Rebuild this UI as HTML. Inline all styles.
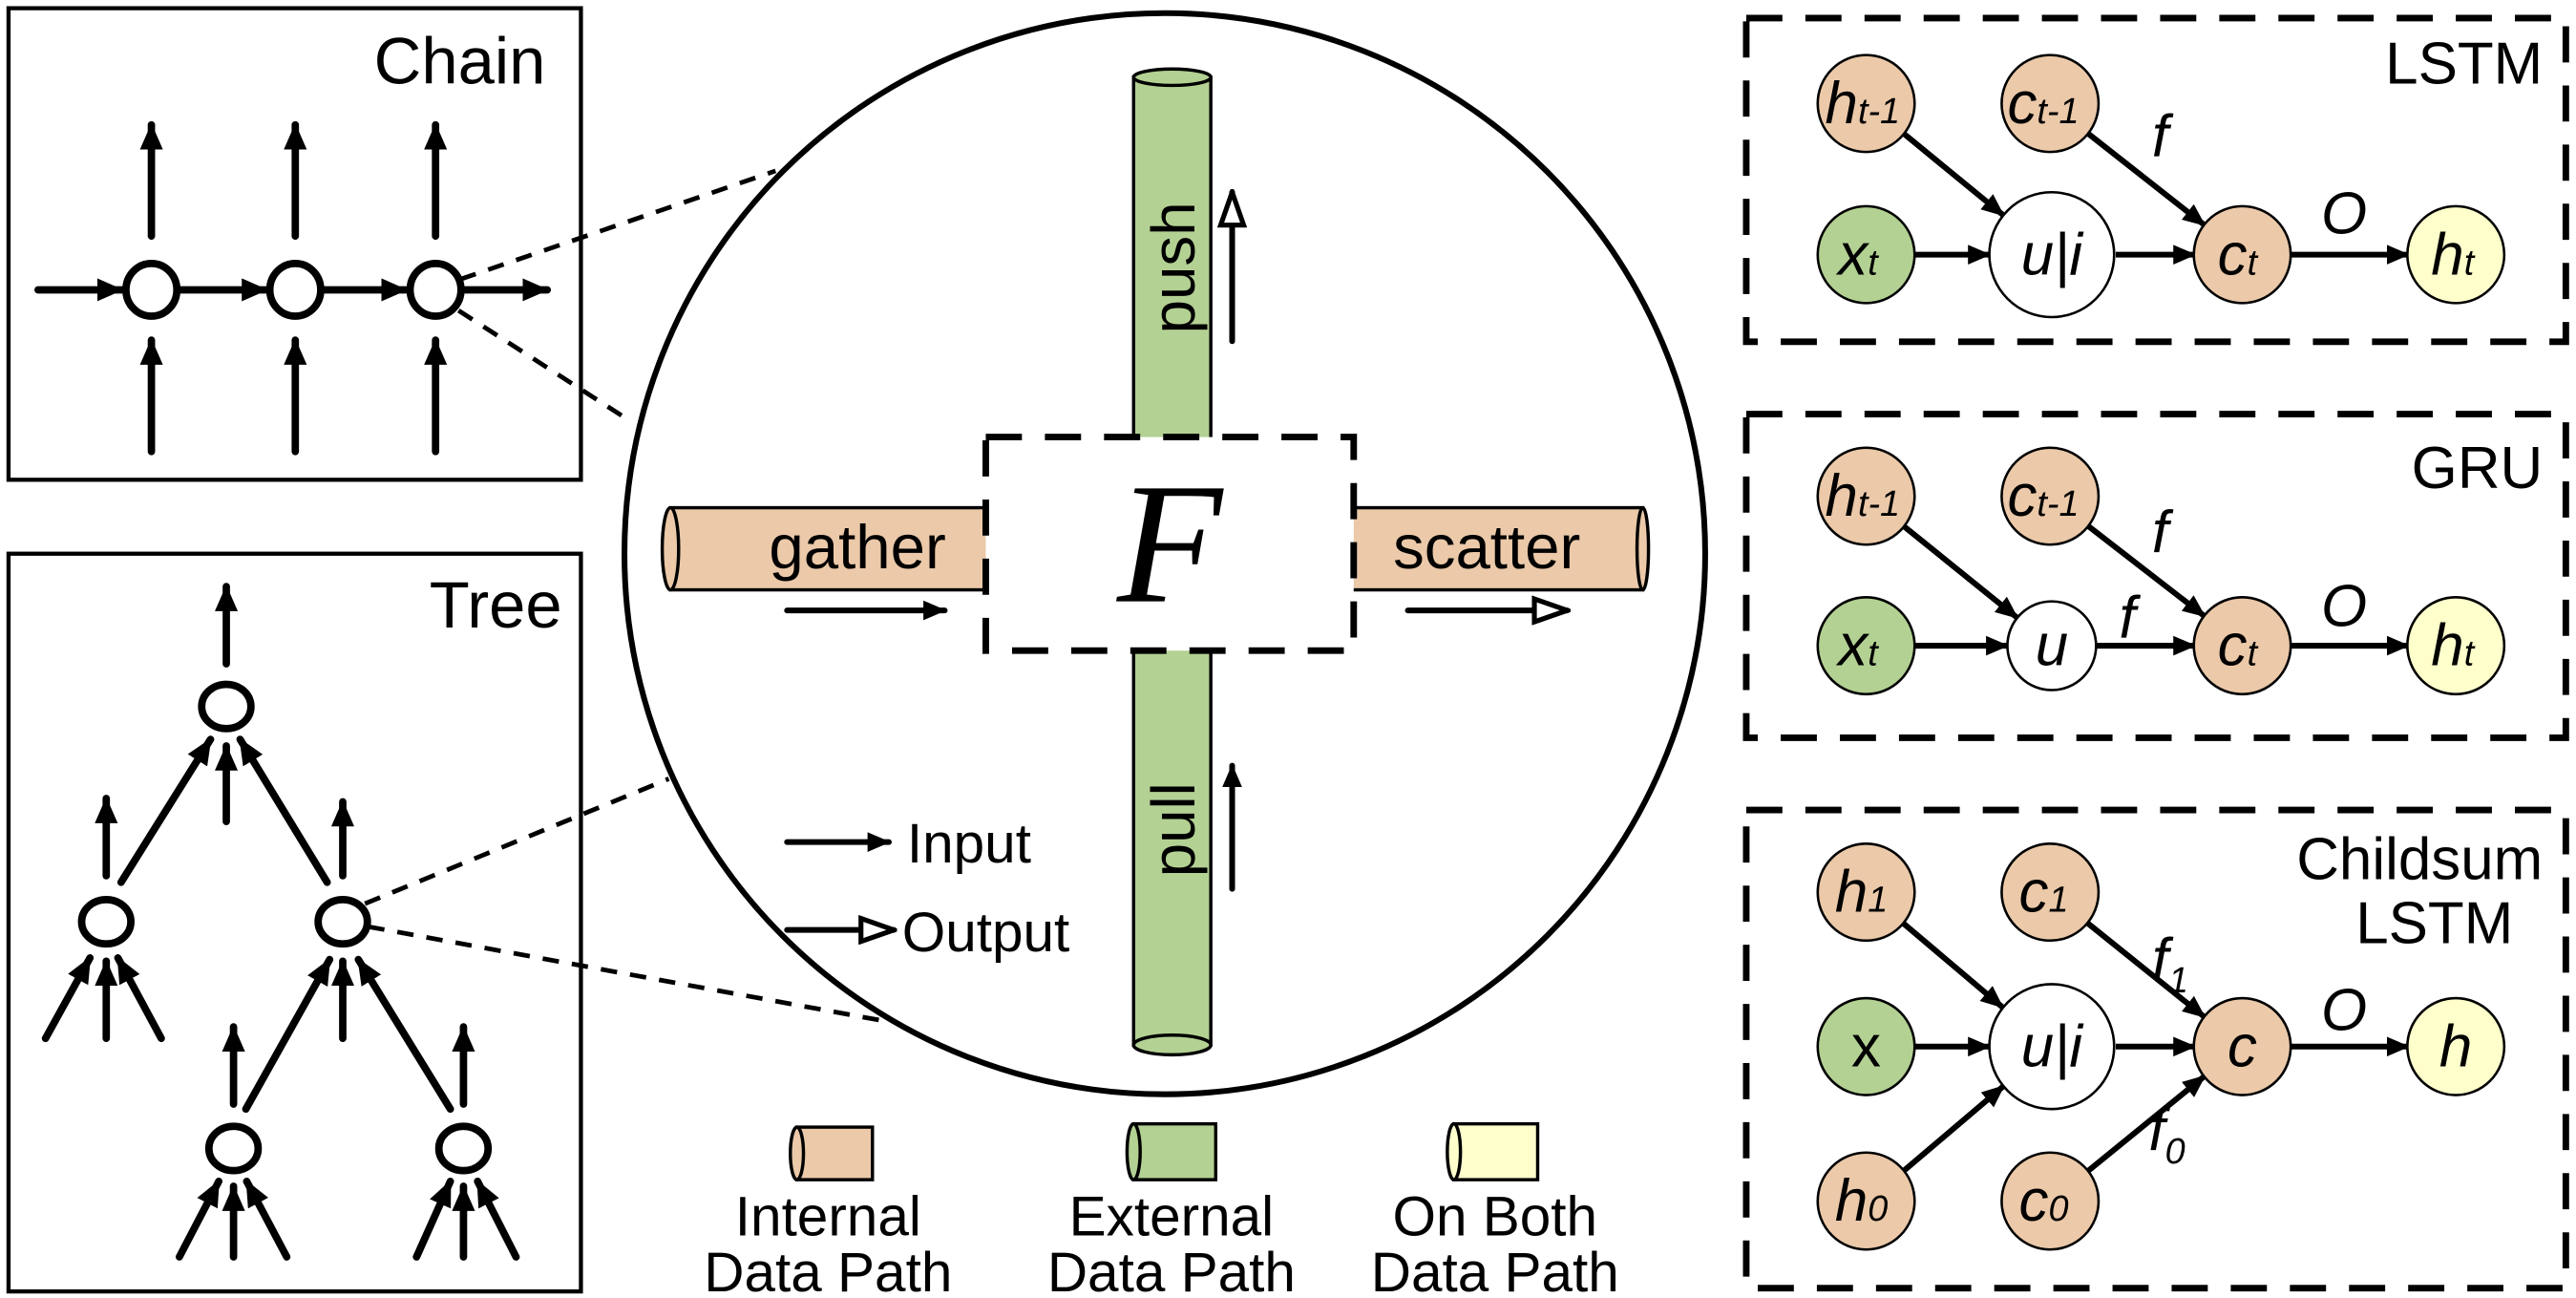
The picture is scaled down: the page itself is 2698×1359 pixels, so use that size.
<!DOCTYPE html>
<html><head><meta charset="utf-8"><style>
html,body{margin:0;padding:0;background:#fff;}
svg{display:block;}
text{font-family:"Liberation Sans","DejaVu Sans",sans-serif;fill:#000;}
.it{font-style:italic;}
</style></head><body>
<svg width="2698" height="1359" viewBox="0 0 1568 790" xmlns="http://www.w3.org/2000/svg">
<defs>
<marker id="af" markerUnits="userSpaceOnUse" markerWidth="16" markerHeight="14" refX="15" refY="7" orient="auto"><path d="M0,0 L16,7 L0,14 Z" fill="#000"/></marker>
<marker id="as" markerUnits="userSpaceOnUse" markerWidth="14" markerHeight="12" refX="13" refY="6" orient="auto"><path d="M0,0 L14,6 L0,12 Z" fill="#000"/></marker>
<marker id="ao" markerUnits="userSpaceOnUse" markerWidth="24" markerHeight="18" refX="22" refY="9" orient="auto"><path d="M2,2 L22,9 L2,16 Z" fill="#fff" stroke="#000" stroke-width="3"/></marker>
</defs>

<rect x="5" y="5" width="348.5" height="287" fill="none" stroke="#000" stroke-width="2.5"/>
<text x="332" y="51" font-size="40" text-anchor="end">Chain</text>
<g stroke="#000" stroke-width="4.5" fill="none" stroke-linecap="round">
<line x1="92" y1="143.7" x2="92" y2="76" marker-end="url(#af)"/>
<line x1="179.6" y1="143.7" x2="179.6" y2="76" marker-end="url(#af)"/>
<line x1="265" y1="143.7" x2="265" y2="76" marker-end="url(#af)"/>
<line x1="92" y1="274.8" x2="92" y2="207" marker-end="url(#af)"/>
<line x1="179.6" y1="274.8" x2="179.6" y2="207" marker-end="url(#af)"/>
<line x1="265" y1="274.8" x2="265" y2="207" marker-end="url(#af)"/>
<line x1="23" y1="176.4" x2="74" y2="176.4" marker-end="url(#af)"/>
<line x1="109" y1="176.4" x2="162" y2="176.4" marker-end="url(#af)"/>
<line x1="197" y1="176.4" x2="247" y2="176.4" marker-end="url(#af)"/>
<line x1="283" y1="176.4" x2="333" y2="176.4" marker-end="url(#af)"/>
<ellipse cx="92" cy="176.4" rx="15.5" ry="16" fill="#fff"/>
<ellipse cx="179.6" cy="176.4" rx="15.5" ry="16" fill="#fff"/>
<ellipse cx="265" cy="176.4" rx="15.5" ry="16" fill="#fff"/>
</g>
<g stroke="#000" stroke-width="2.8" stroke-dasharray="10,8" fill="none">
<line x1="280" y1="170" x2="472" y2="104"/>
<line x1="279" y1="189" x2="380" y2="254"/>
<line x1="222" y1="550" x2="407" y2="474"/>
<line x1="224" y1="564" x2="536" y2="621"/>
</g>

<rect x="5" y="337" width="348.5" height="449" fill="none" stroke="#000" stroke-width="2.5"/>
<text x="342" y="382" font-size="40" text-anchor="end">Tree</text>
<g stroke="#000" stroke-width="4.5" fill="none" stroke-linecap="round">
<line x1="137.6" y1="404" x2="137.6" y2="357" marker-end="url(#af)"/>
<line x1="137.6" y1="500" x2="137.6" y2="454" marker-end="url(#af)"/>
<line x1="73.5" y1="537" x2="128" y2="450" marker-end="url(#af)"/>
<line x1="199" y1="537" x2="146" y2="450" marker-end="url(#af)"/>
<line x1="64.5" y1="533" x2="64.5" y2="486" marker-end="url(#af)"/>
<line x1="208.5" y1="533" x2="208.5" y2="488" marker-end="url(#af)"/>
<line x1="27.5" y1="632" x2="54.6" y2="583" marker-end="url(#af)"/>
<line x1="64.5" y1="632" x2="64.5" y2="585" marker-end="url(#af)"/>
<line x1="98" y1="632" x2="71.6" y2="583" marker-end="url(#af)"/>
<line x1="149.5" y1="675" x2="200.5" y2="584" marker-end="url(#af)"/>
<line x1="208.5" y1="632" x2="208.5" y2="585" marker-end="url(#af)"/>
<line x1="274" y1="675" x2="218" y2="584" marker-end="url(#af)"/>
<line x1="142" y1="672" x2="142" y2="625" marker-end="url(#af)"/>
<line x1="282" y1="672" x2="282" y2="625" marker-end="url(#af)"/>
<line x1="109" y1="765" x2="133" y2="719" marker-end="url(#af)"/>
<line x1="142" y1="765" x2="142" y2="722" marker-end="url(#af)"/>
<line x1="174.4" y1="765" x2="150" y2="719" marker-end="url(#af)"/>
<line x1="253.4" y1="765" x2="274" y2="719" marker-end="url(#af)"/>
<line x1="282" y1="765" x2="282" y2="722" marker-end="url(#af)"/>
<line x1="314" y1="765" x2="290.6" y2="719" marker-end="url(#af)"/>
<ellipse cx="137.6" cy="430" rx="15" ry="13.5" fill="#fff"/>
<ellipse cx="64.5" cy="561" rx="15" ry="13.5" fill="#fff"/>
<ellipse cx="208.5" cy="561" rx="15" ry="13.5" fill="#fff"/>
<ellipse cx="142" cy="699" rx="15" ry="13.5" fill="#fff"/>
<ellipse cx="282" cy="699" rx="15" ry="13.5" fill="#fff"/>
</g>

<circle cx="709" cy="337" r="329" fill="#fff" stroke="#000" stroke-width="3.5"/>
<rect x="690" y="47" width="47" height="589" fill="#B3D193" stroke="#000" stroke-width="2"/>
<ellipse cx="713.5" cy="47" rx="23.5" ry="5" fill="#B3D193" stroke="#000" stroke-width="2"/>
<ellipse cx="713.5" cy="636" rx="23.5" ry="6" fill="#B3D193" stroke="#000" stroke-width="2"/>
<rect x="408" y="309" width="195" height="50" fill="#EBC9A9" stroke="#000" stroke-width="2"/>
<ellipse cx="408" cy="334" rx="5" ry="25" fill="#EBC9A9" stroke="#000" stroke-width="2"/>
<rect x="820" y="309" width="180" height="50" fill="#EBC9A9" stroke="#000" stroke-width="2"/>
<ellipse cx="1000" cy="334" rx="3.5" ry="25" fill="#EBC9A9" stroke="#000" stroke-width="2"/>
<rect x="600" y="266" width="224" height="130" fill="#fff"/>
<rect x="600" y="266" width="224" height="130" fill="none" stroke="#000" stroke-width="4" stroke-dasharray="22,14"/>
<text x="712" y="366" font-size="105" text-anchor="middle" style="font-family:'Liberation Serif',serif;font-style:italic">F</text>
<text x="468" y="346" font-size="38">gather</text>
<text x="848" y="346" font-size="38">scatter</text>
<text transform="translate(727,163) rotate(-90)" font-size="37" text-anchor="middle">push</text>
<text transform="translate(727,505) rotate(-90)" font-size="37" text-anchor="middle">pull</text>
<g stroke="#000" stroke-width="3.5" fill="none" stroke-linecap="round">
<line x1="479" y1="371.5" x2="575" y2="371.5" marker-end="url(#as)"/>
<line x1="857" y1="371.5" x2="954" y2="371.5" marker-end="url(#ao)"/>
<line x1="750" y1="207.7" x2="750" y2="117" marker-end="url(#ao)"/>
<line x1="750" y1="541" x2="750" y2="466" marker-end="url(#as)"/>
<line x1="479" y1="512.5" x2="541" y2="512.5" marker-end="url(#as)"/>
<line x1="479" y1="566" x2="544" y2="566" marker-end="url(#ao)"/>
</g>
<text x="552" y="525" font-size="34">Input</text>
<text x="549" y="579" font-size="34">Output</text>

<g stroke="#000" stroke-width="2">
<rect x="485" y="686" width="46" height="32" fill="#EBC9A9"/>
<ellipse cx="485" cy="702" rx="4" ry="16" fill="#EBC9A9"/>
<rect x="690" y="684" width="50" height="34" fill="#B3D193"/>
<ellipse cx="690" cy="701" rx="4" ry="17" fill="#B3D193"/>
<rect x="885" y="684" width="51" height="34" fill="#FFFFCC"/>
<ellipse cx="885" cy="701" rx="4" ry="17" fill="#FFFFCC"/>
</g>
<g font-size="34" text-anchor="middle">
<text x="504" y="752">Internal</text><text x="504" y="786">Data Path</text>
<text x="713" y="752">External</text><text x="713" y="786">Data Path</text>
<text x="910" y="752">On Both</text><text x="910" y="786">Data Path</text>
</g>

<g fill="none" stroke="#000" stroke-width="4" stroke-dasharray="22,14">
<rect x="1063" y="11" width="499" height="197"/>
<rect x="1063" y="252" width="499" height="197"/>
<rect x="1063" y="493" width="499" height="291"/>
</g>
<text x="1548" y="51" font-size="36" text-anchor="end">LSTM</text>
<text x="1548" y="297" font-size="36" text-anchor="end">GRU</text>
<text x="1548" y="535" font-size="36" text-anchor="end">Childsum</text>
<text x="1530" y="574" font-size="36" text-anchor="end">LSTM</text>

<g stroke="#000" stroke-width="3.5" fill="none">
<line x1="1158.5" y1="81" x2="1219.5" y2="131" marker-end="url(#as)"/>
<line x1="1270.8" y1="81" x2="1342" y2="137" marker-end="url(#as)"/>
<line x1="1166" y1="155" x2="1211" y2="155" marker-end="url(#as)"/>
<line x1="1288" y1="155" x2="1336" y2="155" marker-end="url(#as)"/>
<line x1="1394" y1="155" x2="1466" y2="155" marker-end="url(#as)"/>
<line x1="1158.6" y1="320" x2="1228" y2="376" marker-end="url(#as)"/>
<line x1="1271" y1="320" x2="1342" y2="375" marker-end="url(#as)"/>
<line x1="1166" y1="393" x2="1222" y2="393" marker-end="url(#as)"/>
<line x1="1276" y1="393" x2="1336" y2="393" marker-end="url(#as)"/>
<line x1="1394" y1="393" x2="1466" y2="393" marker-end="url(#as)"/>
<line x1="1158.7" y1="562" x2="1219" y2="613" marker-end="url(#as)"/>
<line x1="1271" y1="562" x2="1342" y2="619" marker-end="url(#as)"/>
<line x1="1166" y1="637" x2="1211" y2="637" marker-end="url(#as)"/>
<line x1="1288" y1="637" x2="1336" y2="637" marker-end="url(#as)"/>
<line x1="1394" y1="637" x2="1466" y2="637" marker-end="url(#as)"/>
<line x1="1158.4" y1="713" x2="1219.7" y2="661" marker-end="url(#as)"/>
<line x1="1270.7" y1="713" x2="1342" y2="655" marker-end="url(#as)"/>
</g>

<g stroke="#000" stroke-width="1.5">
<circle cx="1136" cy="63" r="29.5" fill="#EBC9A9"/>
<circle cx="1248" cy="63" r="29.5" fill="#EBC9A9"/>
<circle cx="1136" cy="155" r="29.5" fill="#B3D193"/>
<circle cx="1249" cy="155" r="38" fill="#fff"/>
<circle cx="1365" cy="155" r="29.5" fill="#EBC9A9"/>
<circle cx="1495" cy="155" r="29.5" fill="#FFFFCC"/>
<circle cx="1136" cy="302" r="29.5" fill="#EBC9A9"/>
<circle cx="1248" cy="302" r="29.5" fill="#EBC9A9"/>
<circle cx="1136" cy="393" r="29.5" fill="#B3D193"/>
<circle cx="1249" cy="393" r="27" fill="#fff"/>
<circle cx="1365" cy="393" r="29.5" fill="#EBC9A9"/>
<circle cx="1495" cy="393" r="29.5" fill="#FFFFCC"/>
<circle cx="1136" cy="543" r="29.5" fill="#EBC9A9"/>
<circle cx="1248" cy="543" r="29.5" fill="#EBC9A9"/>
<circle cx="1136" cy="637" r="29.5" fill="#B3D193"/>
<circle cx="1249" cy="637" r="38" fill="#fff"/>
<circle cx="1365" cy="637" r="29.5" fill="#EBC9A9"/>
<circle cx="1495" cy="637" r="29.5" fill="#FFFFCC"/>
<circle cx="1136" cy="731" r="29.5" fill="#EBC9A9"/>
<circle cx="1248" cy="731" r="29.5" fill="#EBC9A9"/>
</g>

<g class="it" font-size="36">
<text x="1111" y="75">h<tspan font-size="22">t-1</tspan></text>
<text x="1222" y="75">c<tspan font-size="22">t-1</tspan></text>
<text x="1119" y="167">x<tspan font-size="22">t</tspan></text>
<text x="1249" y="167" text-anchor="middle">u|i</text>
<text x="1350" y="167">c<tspan font-size="22">t</tspan></text>
<text x="1480" y="167">h<tspan font-size="22">t</tspan></text>
<text x="1310" y="95">f</text>
<text x="1413" y="142">O</text>
<text x="1111" y="314">h<tspan font-size="22">t-1</tspan></text>
<text x="1222" y="314">c<tspan font-size="22">t-1</tspan></text>
<text x="1119" y="405">x<tspan font-size="22">t</tspan></text>
<text x="1249" y="405" text-anchor="middle">u</text>
<text x="1350" y="405">c<tspan font-size="22">t</tspan></text>
<text x="1480" y="405">h<tspan font-size="22">t</tspan></text>
<text x="1310" y="336">f</text>
<text x="1290" y="388">f</text>
<text x="1413" y="381">O</text>
<text x="1117" y="555">h<tspan font-size="22">1</tspan></text>
<text x="1229" y="555">c<tspan font-size="22">1</tspan></text>
<text x="1136" y="649" text-anchor="middle" style="font-style:normal">x</text>
<text x="1249" y="649" text-anchor="middle">u|i</text>
<text x="1365" y="649" text-anchor="middle">c</text>
<text x="1495" y="649" text-anchor="middle">h</text>
<text x="1117" y="743">h<tspan font-size="22">0</tspan></text>
<text x="1229" y="743">c<tspan font-size="22">0</tspan></text>
<text x="1310" y="596">f<tspan font-size="22" dy="8">1</tspan></text>
<text x="1308" y="700">f<tspan font-size="22" dy="8">0</tspan></text>
<text x="1413" y="627">O</text>
</g>
</svg>
</body></html>
